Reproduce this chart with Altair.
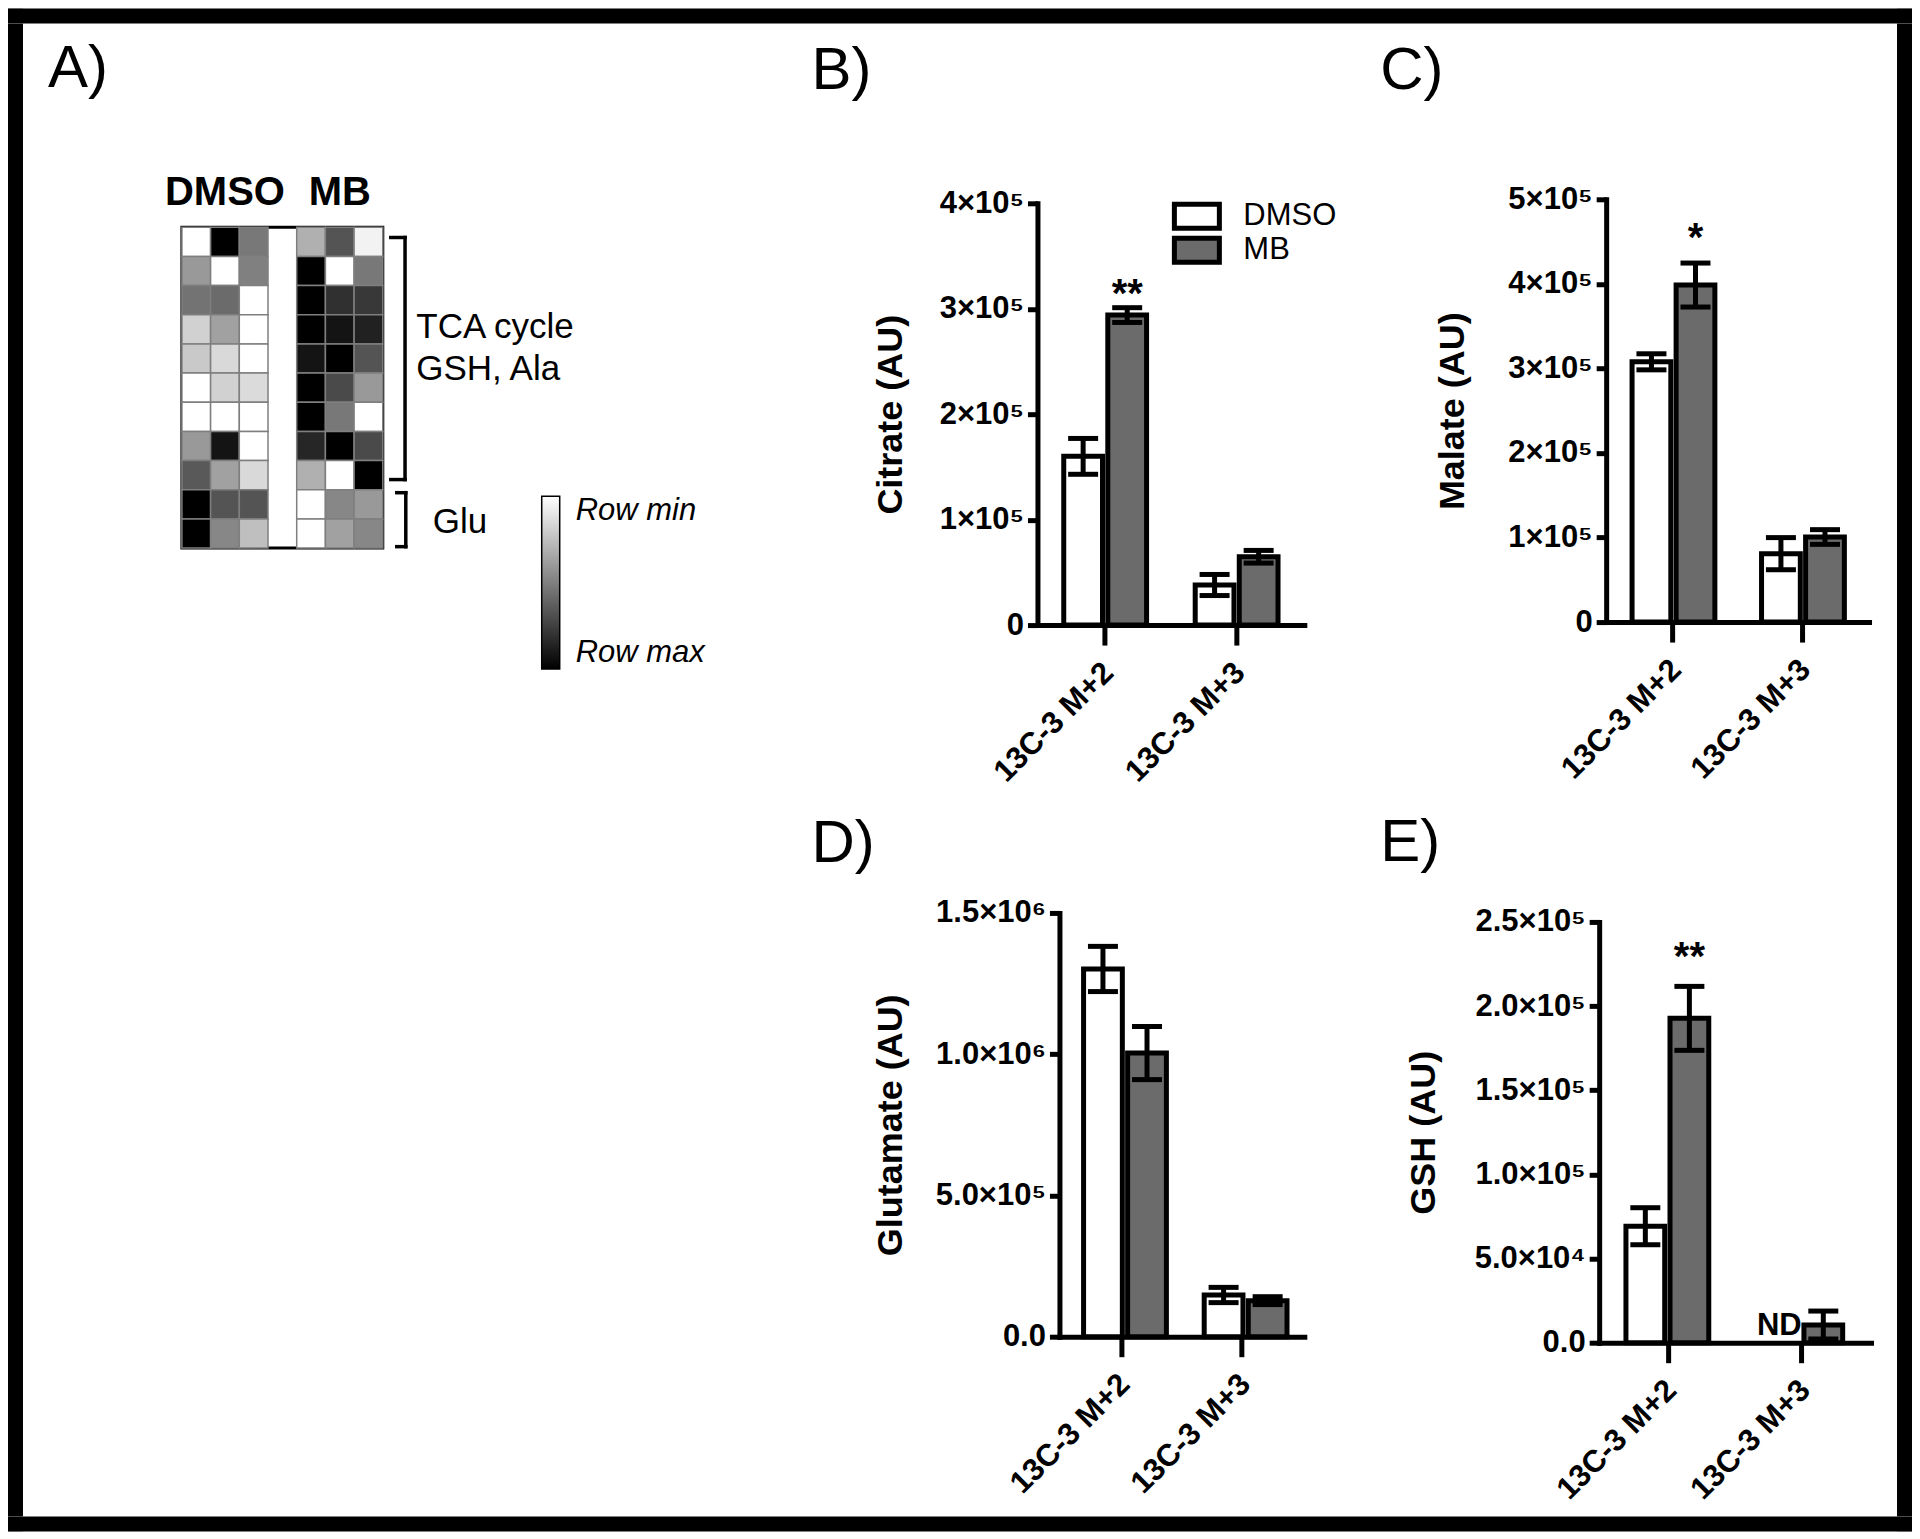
import json
import altair as alt
import pandas as pd

FONT = "Liberation Sans, Arial, Helvetica, sans-serif"
GRAY = "#6b6b6b"

# ---------------- Panel A : heatmap ----------------
heat_rows = ["r1", "r2", "r3", "r4", "r5", "r6", "r7", "r8", "r9", "r10", "r11"]
heat_cols = ["D1", "D2", "D3", "M1", "M2", "M3"]
heat_x_domain = ["D1", "D2", "D3", "G", "M1", "M2", "M3"]
heat_values = [
    [0.00, 1.00, 0.53, 0.31, 0.67, 0.05],
    [0.40, 0.00, 0.50, 1.00, 0.00, 0.53],
    [0.55, 0.58, 0.00, 1.00, 0.81, 0.78],
    [0.18, 0.37, 0.00, 1.00, 0.92, 0.87],
    [0.21, 0.15, 0.00, 0.92, 1.00, 0.67],
    [0.00, 0.18, 0.14, 1.00, 0.71, 0.40],
    [0.00, 0.00, 0.00, 1.00, 0.53, 0.00],
    [0.40, 0.92, 0.00, 0.85, 1.00, 0.71],
    [0.65, 0.37, 0.15, 0.31, 0.00, 1.00],
    [1.00, 0.67, 0.67, 0.00, 0.47, 0.40],
    [1.00, 0.47, 0.25, 0.00, 0.37, 0.47],
]
heat_group_labels = ["DMSO", "MB"]
heat_group_label_cols = ["D2", "M2"]
colorbar_values = [0, 1]
colorbar_labels = ["Row min", "Row max"]

bracket_row_top = [0.35, 9.10]
bracket_row_bottom = [8.65, 10.95]
bracket_x = [0.115, 0.12]
bracket_serif_x = [0.02, 0.06]
annot_text = ["TCA cycle", "GSH, Ala", "Glu"]
annot_text_x = [0.19, 0.19, 0.30]
annot_text_row = [3.80, 5.24, 10.49]

# ---------------- Bar panels ----------------
categories = ["13C-3 M+2", "13C-3 M+3"]
groups = ["DMSO", "MB"]

citrate_dmso = [160000, 38000]
citrate_dmso_sem = [17000, 10000]
citrate_mb = [294000, 64800]
citrate_mb_sem = [7000, 6000]
citrate_ticks = [0, 100000, 200000, 300000, 400000]
citrate_tick_labels = ["0", "1×10⁵", "2×10⁵", "3×10⁵", "4×10⁵"]
citrate_sig = [("13C-3 M+2", "MB", "**")]

malate_dmso = [307800, 80900]
malate_dmso_sem = [9500, 19000]
malate_mb = [398600, 100600]
malate_mb_sem = [26000, 8700]
malate_ticks = [0, 100000, 200000, 300000, 400000, 500000]
malate_tick_labels = ["0", "1×10⁵", "2×10⁵", "3×10⁵", "4×10⁵", "5×10⁵"]
malate_sig = [("13C-3 M+2", "MB", "*")]

glutamate_dmso = [1301600, 147600]
glutamate_dmso_sem = [80000, 27000]
glutamate_mb = [1004000, 127600]
glutamate_mb_sem = [94000, 14000]
glutamate_ticks = [0, 500000, 1000000, 1500000]
glutamate_tick_labels = ["0.0", "5.0×10⁵", "1.0×10⁶", "1.5×10⁶"]

gsh_dmso = [69200, None]
gsh_dmso_sem = [11000, None]
gsh_mb = [192700, 10500]
gsh_mb_sem = [19000, 8300]
gsh_ticks = [0, 50000, 100000, 150000, 200000, 250000]
gsh_tick_labels = ["0.0", "5.0×10⁴", "1.0×10⁵", "1.5×10⁵", "2.0×10⁵", "2.5×10⁵"]
gsh_sig = [("13C-3 M+2", "MB", "**")]
gsh_nd = [("13C-3 M+3", "DMSO", "ND")]


def lookup_expr(values, labels):
    return "%s[indexof(%s, datum.value)]" % (
        json.dumps(labels, ensure_ascii=False), json.dumps(values))


def box(w, h, fill=None):
    c = alt.Chart(alt.Data(values=[{"k": 0}])).mark_point(
        size=0, filled=True, opacity=0, strokeWidth=0
    ).encode(x=alt.value(0), y=alt.value(0)).properties(width=w, height=h)
    if fill:
        c = c.properties(view=alt.ViewBackground(fill=fill))
    return c


def place(chart, dx, dy):
    inner = alt.vconcat(box(1, dy), chart, spacing=0, bounds="flush")
    return alt.hconcat(box(dx, 1), inner, spacing=0, bounds="flush")


def group_fill():
    return alt.condition(alt.datum.grp == "DMSO", alt.value("#ffffff"), alt.value(GRAY))


# ---- heatmap chart ----
heat_records = []
for i, r in enumerate(heat_rows):
    for j, c in enumerate(heat_cols):
        heat_records.append({"row": r, "col": c, "v": heat_values[i][j]})
heat_df = pd.DataFrame(heat_records)

heat = alt.Chart(heat_df).mark_rect(stroke="#7f7f7f", strokeWidth=1.5).encode(
    x=alt.X("col:N", scale=alt.Scale(domain=heat_x_domain, paddingInner=0, paddingOuter=0),
            axis=alt.Axis(orient="top", values=heat_group_label_cols,
                          labelExpr=lookup_expr(heat_group_label_cols, heat_group_labels),
                          ticks=False, tickSize=0, domain=False, labelFont=FONT, labelFontSize=40,
                          labelFontWeight="bold", labelColor="black", labelPadding=15,
                          labelAngle=0, labelAlign="center", title=None)),
    y=alt.Y("row:N", scale=alt.Scale(domain=heat_rows, paddingInner=0, paddingOuter=0), axis=None),
    color=alt.Color("v:Q", scale=alt.Scale(domain=[1, 0], range=["#000000", "#ffffff"], interpolate="rgb"),
                    legend=alt.Legend(orient="none", legendX=534, legendY=488, direction="vertical",
                                      title=None, values=colorbar_values,
                                      labelExpr=lookup_expr(colorbar_values, colorbar_labels),
                                      gradientLength=173, gradientThickness=18,
                                      gradientStrokeColor="black", gradientStrokeWidth=1.5,
                                      labelFont=FONT, labelFontSize=31, labelFontStyle="italic",
                                      labelColor="black", labelOffset=16, padding=0,
                                      labelOverlap=False)),
).properties(
    width=201, height=321,
    view=alt.ViewBackground(stroke="black", strokeWidth=3),
    title=alt.TitleParams(text="A)", anchor="start", frame="group", dx=-134, offset=72,
                          fontSize=60, fontWeight="normal", font=FONT, color="black"),
)

# ---- bracket annotations ----
br_df = pd.DataFrame({"y0": bracket_row_top, "y1": bracket_row_bottom,
                      "bx": bracket_x, "sx": bracket_serif_x})
at_df = pd.DataFrame({"t": annot_text, "lx": annot_text_x, "ly": annot_text_row})
axs = alt.Scale(domain=[0, 1], nice=False, zero=False)
ays = alt.Scale(domain=[0, 11], nice=False, zero=False, reverse=True)
vert = alt.Chart(br_df).mark_rule(color="black", strokeWidth=3.5, strokeCap="square").encode(
    x=alt.X("bx:Q", scale=axs, axis=None), y=alt.Y("y0:Q", scale=ays, axis=None), y2="y1:Q")
serif_top = alt.Chart(br_df).mark_rule(color="black", strokeWidth=3.5, strokeCap="square").encode(
    x=alt.X("sx:Q", scale=axs, axis=None), x2="bx:Q", y=alt.Y("y0:Q", scale=ays, axis=None))
serif_bot = alt.Chart(br_df).mark_rule(color="black", strokeWidth=3.5, strokeCap="square").encode(
    x=alt.X("sx:Q", scale=axs, axis=None), x2="bx:Q", y=alt.Y("y1:Q", scale=ays, axis=None))
atext = alt.Chart(at_df).mark_text(align="left", baseline="alphabetic", font=FONT, fontSize=35,
                                   color="black").encode(
    x=alt.X("lx:Q", scale=axs, axis=None), y=alt.Y("ly:Q", scale=ays, axis=None), text="t:N")
annot = alt.layer(vert, serif_top, serif_bot, atext).properties(width=150, height=321)

# ---- DMSO / MB key of panel B ----
key_df = pd.DataFrame({"grp": groups})
key_x = alt.Scale(domain=[0, 1], nice=False, zero=False)
key_y = alt.Y("grp:N", scale=alt.Scale(domain=groups, paddingInner=0.294, paddingOuter=0), axis=None)
key_boxes = alt.Chart(key_df).mark_rect(stroke="black", strokeWidth=5).encode(
    x=alt.X(datum=0, scale=key_x, axis=None), x2=alt.X2(datum=1), y=key_y, fill=group_fill())
key_text = alt.Chart(key_df).mark_text(align="left", baseline="middle", font=FONT, fontSize=31,
                                       color="black", dx=24).encode(
    x=alt.X(datum=1, scale=key_x, axis=None), y=key_y, text="grp:N")
key = alt.layer(key_boxes, key_text).properties(width=45, height=58)


def bar_panel(dmso, dmso_sem, mb, mb_sem, ticks, tick_labels, ytitle, w, h, title_x,
              letter, letter_dx, letter_offset, sig=None, sig_dy=-15, nd=None):
    recs = []
    for g, means, sems in (("DMSO", dmso, dmso_sem), ("MB", mb, mb_sem)):
        for c, m, s in zip(categories, means, sems):
            if m is None:
                continue
            recs.append({"cat": c, "grp": g, "mean": m, "lo": m - s, "hi": m + s})
    df = pd.DataFrame(recs)

    yscale = alt.Scale(domain=[ticks[0], ticks[-1]], nice=False, zero=True)
    xscale = alt.Scale(domain=categories, paddingInner=0.37, paddingOuter=0.2)
    oscale = alt.Scale(domain=groups, paddingInner=0.12, paddingOuter=0)
    yaxis = alt.Axis(values=ticks, labelExpr=lookup_expr(ticks, tick_labels), tickSize=10, tickWidth=5,
                     tickColor="black", domainColor="black", domainWidth=5, domainCap="square",
                     labelFont=FONT, labelFontSize=31, labelFontWeight="bold", labelColor="black",
                     labelPadding=4, labelOverlap=False, labelFlush=False, grid=False,
                     titleFont=FONT, titleFontSize=36, titleFontWeight="bold", titleColor="black",
                     titleX=title_x)
    xaxis = alt.Axis(labelAngle=-45, labelAlign="right", labelBaseline="top", labelFont=FONT,
                     labelFontSize=31, labelFontWeight="bold", labelColor="black", labelPadding=12,
                     labelOffset=-7, labelLimit=0, tickSize=20, tickWidth=5, tickColor="black",
                     domainColor="black", domainWidth=5, domainCap="square", grid=False,
                     labelOverlap=False)

    def X():
        return alt.X("cat:N", scale=xscale, axis=xaxis, title=None)

    def XO():
        return alt.XOffset("grp:N", scale=oscale)

    def Y(f):
        return alt.Y(f + ":Q", scale=yscale, axis=yaxis, title=ytitle)

    bars = alt.Chart(df).mark_bar(stroke="black", strokeWidth=5, opacity=1).encode(
        x=X(), xOffset=XO(), y=Y("mean"), fill=group_fill())
    err = alt.Chart(df).mark_rule(color="black", strokeWidth=5).encode(
        x=X(), xOffset=XO(), y=Y("lo"), y2="hi:Q")
    caps = alt.Chart(df).transform_fold(["lo", "hi"], as_=["end", "yv"]).mark_tick(
        color="black", thickness=5, size=30, opacity=1).encode(x=X(), xOffset=XO(), y=Y("yv"))
    layers = [bars, err, caps]
    if sig:
        srecs = []
        for c, g, t in sig:
            row = df[(df.cat == c) & (df.grp == g)].iloc[0]
            srecs.append({"cat": c, "grp": g, "label": t, "yv": row["hi"]})
        layers.append(alt.Chart(pd.DataFrame(srecs)).mark_text(
            font=FONT, fontSize=40, fontWeight="bold", color="black", baseline="middle", dy=sig_dy
        ).encode(x=X(), xOffset=XO(), y=Y("yv"), text="label:N"))
    if nd:
        nrecs = [{"cat": c, "grp": g, "label": t, "yv": 0} for c, g, t in nd]
        layers.append(alt.Chart(pd.DataFrame(nrecs)).mark_text(
            font=FONT, fontSize=31, fontWeight="bold", color="black", baseline="alphabetic", dy=-8
        ).encode(x=X(), xOffset=XO(), y=Y("yv"), text="label:N"))
    return alt.layer(*layers).properties(
        width=w, height=h,
        title=alt.TitleParams(text=letter, anchor="start", frame="group", dx=letter_dx,
                              offset=letter_offset, fontSize=60, fontWeight="normal",
                              font=FONT, color="black"))


panel_b = bar_panel(citrate_dmso, citrate_dmso_sem, citrate_mb, citrate_mb_sem, citrate_ticks,
                    citrate_tick_labels, "Citrate (AU)", 267, 422, -128, "B)", -226, 85,
                    sig=citrate_sig, sig_dy=-13)
panel_c = bar_panel(malate_dmso, malate_dmso_sem, malate_mb, malate_mb_sem, malate_ticks,
                    malate_tick_labels, "Malate (AU)", 263, 423, -135, "C)", -226, 81,
                    sig=malate_sig, sig_dy=-24)
panel_d = bar_panel(glutamate_dmso, glutamate_dmso_sem, glutamate_mb, glutamate_mb_sem,
                    glutamate_ticks, glutamate_tick_labels, "Glutamate (AU)", 245, 424, -150,
                    "D)", -248, 22)
panel_e = bar_panel(gsh_dmso, gsh_dmso_sem, gsh_mb, gsh_mb_sem, gsh_ticks, gsh_tick_labels,
                    "GSH (AU)", 272, 421, -157, "E)", -219, 32, sig=gsh_sig, sig_dy=-28, nd=gsh_nd)

# ---------------- layout: panels floated inside a framed 3x3 grid ----------------
content = alt.vconcat(
    place(heat, 159, 204),
    place(annot, 365, 204),
    place(panel_b, 1015, 180),
    place(key, 1152, 181),
    place(panel_c, 1584, 176),
    place(panel_d, 1037, 890),
    place(panel_e, 1577, 899),
    spacing=0, bounds="flush",
)

FRAME = 15
INNER_W = 1875
INNER_H = 1494
grid_items = [
    box(FRAME, FRAME, "black"), box(INNER_W, FRAME, "black"), box(FRAME, FRAME, "black"),
    box(FRAME, INNER_H, "black"), content, box(FRAME, INNER_H, "black"),
    box(FRAME, FRAME, "black"), box(INNER_W, FRAME, "black"), box(FRAME, FRAME, "black"),
]

chart = alt.concat(*grid_items, columns=3, spacing=0, bounds="flush", align="each").properties(
    padding=0, background="white"
).configure_view(stroke=None)

chart.save("out.html", embed_options={"renderer": "svg", "actions": False})
